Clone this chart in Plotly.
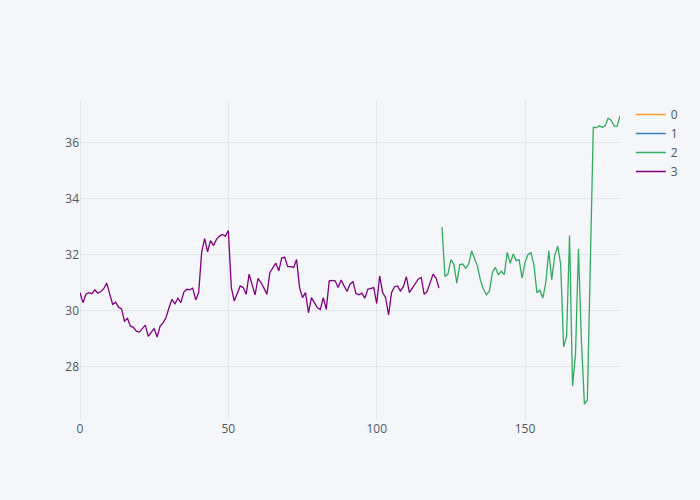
import plotly.graph_objects as go

series_names = ["0", "1", "2", "3"]
colors = ["#ff9933", "#3780bf", "#32ab60", "#800080"]

# trace 3 (purple), x = 0..121
s3_start = 0
s3_values = [
    30.64, 30.28, 30.58, 30.64, 30.60, 30.74, 30.62, 30.68, 30.78, 30.98,
    30.60, 30.22, 30.30, 30.12, 30.06, 29.62, 29.72, 29.44, 29.40, 29.26,
    29.23, 29.36, 29.48, 29.08, 29.20, 29.36, 29.05, 29.44, 29.56, 29.75,
    30.10, 30.40, 30.24, 30.44, 30.28, 30.66, 30.76, 30.74, 30.80, 30.38,
    30.64, 32.08, 32.57, 32.10, 32.50, 32.32, 32.54, 32.66, 32.72, 32.66,
    32.86, 30.82, 30.34, 30.64, 30.88, 30.82, 30.58, 31.30, 30.88, 30.56,
    31.15, 31.00, 30.80, 30.58, 31.36, 31.55, 31.69, 31.42, 31.88, 31.90,
    31.57, 31.57, 31.54, 31.82, 30.82, 30.46, 30.64, 29.92, 30.46, 30.28,
    30.10, 30.04, 30.46, 30.04, 31.06, 31.08, 31.06, 30.82, 31.09, 30.88,
    30.68, 30.94, 31.03, 30.61, 30.56, 30.62, 30.44, 30.76, 30.79, 30.82,
    30.25, 31.24, 30.64, 30.46, 29.84, 30.64, 30.85, 30.88, 30.70, 30.85,
    31.21, 30.64, 30.80, 30.94, 31.12, 31.18, 30.58, 30.68, 31.00, 31.30,
    31.16, 30.80,
]

# trace 2 (green), x = 122..182
s2_start = 122
s2_values = [
    32.98, 31.22, 31.30, 31.82, 31.65, 30.98, 31.64, 31.66, 31.51, 31.66,
    32.13, 31.82, 31.57, 31.06, 30.76, 30.56, 30.70, 31.36, 31.54, 31.28,
    31.40, 31.28, 32.08, 31.69, 32.02, 31.78, 31.81, 31.16, 31.72, 32.00,
    32.06, 31.62, 30.64, 30.72, 30.45, 31.00, 32.13, 31.10, 31.96, 32.30,
    31.66, 28.70, 29.08, 32.68, 27.30, 28.42, 32.20, 28.90, 26.66, 26.80,
    31.70, 36.55, 36.53, 36.60, 36.55, 36.60, 36.87, 36.80, 36.60, 36.58,
    36.95,
]

# traces 0 and 1 have no visible values in the chart
s0_values = [None]
s1_values = [None]

fig = go.Figure()
data = [
    ([None], s0_values),
    ([None], s1_values),
    (list(range(s2_start, s2_start + len(s2_values))), s2_values),
    (list(range(s3_start, s3_start + len(s3_values))), s3_values),
]
for name, color, (xs, ys) in zip(series_names, colors, data):
    fig.add_trace(go.Scatter(x=xs, y=ys, mode="lines", name=name,
                             line=dict(color=color, width=1.3)))

fig.update_layout(
    template="none",
    width=700, height=500,
    paper_bgcolor="#F5F6F9",
    plot_bgcolor="#F5F6F9",
    font=dict(family="Open Sans, verdana, arial, sans-serif", color="#4D5663", size=12),
    legend=dict(bgcolor="#F5F6F9", font=dict(color="#4D5663")),
    margin=dict(l=80, r=80, t=100, b=80),
    xaxis=dict(showgrid=True, gridcolor="#E1E5ED", zerolinecolor="#E1E5ED",
               zeroline=True, tickfont=dict(color="#4D5663"), showline=False,
               ticks=""),
    yaxis=dict(showgrid=True, gridcolor="#E1E5ED", zerolinecolor="#E1E5ED",
               tickfont=dict(color="#4D5663"), showline=False, ticks=""),
)

fig.write_html(
    "out.html",
    config={"displayModeBar": False},
    post_script="document.body.style.margin='0';document.body.style.padding='0';"
                "document.body.style.overflow='hidden';",
)
